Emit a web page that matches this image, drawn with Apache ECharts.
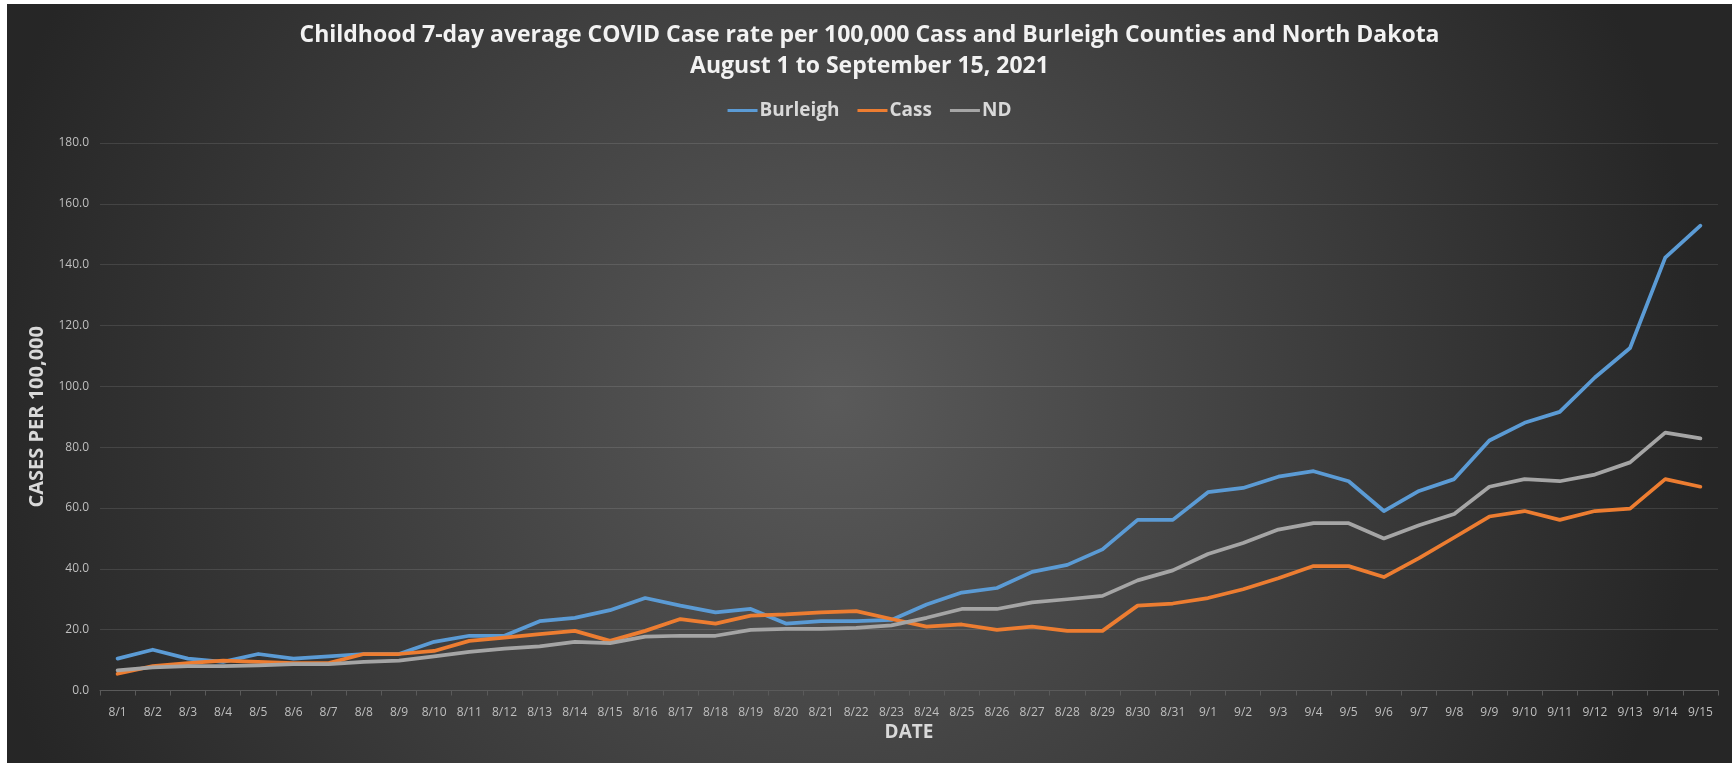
<!DOCTYPE html>
<html>
<head>
<meta charset="utf-8">
<script src="https://cdn.jsdelivr.net/npm/echarts@6/dist/echarts.min.js"></script>
<style>
html,body{margin:0;padding:0;background:#ffffff;width:1732px;height:763px;overflow:hidden;}
#chart{position:absolute;left:7px;top:4px;width:1725px;height:759px;}
</style>
</head>
<body>
<div id="chart"></div>
<script>
const categories = ['8/1','8/2','8/3','8/4','8/5','8/6','8/7','8/8','8/9','8/10','8/11','8/12','8/13','8/14','8/15','8/16','8/17','8/18','8/19','8/20','8/21','8/22','8/23','8/24','8/25','8/26','8/27','8/28','8/29','8/30','8/31','9/1','9/2','9/3','9/4','9/5','9/6','9/7','9/8','9/9','9/10','9/11','9/12','9/13','9/14','9/15'];
const burleigh = [10.5,13.4,10.5,9.4,12.0,10.5,11.2,12.0,12.0,16.0,18.0,18.0,22.8,23.9,26.4,30.4,27.9,25.7,26.8,22.0,22.8,22.8,23.2,28.3,32.2,33.7,39.0,41.3,46.4,56.1,56.1,65.2,66.6,70.3,72.1,68.8,59.0,65.6,69.5,82.2,88.0,91.6,102.9,112.6,142.3,152.8];
const cass = [5.5,8.0,9.0,9.8,9.4,9.0,9.0,12.0,12.0,13.0,16.3,17.4,18.5,19.6,16.3,19.6,23.5,22.0,24.6,25.0,25.7,26.1,23.5,21.0,21.7,19.9,21.0,19.6,19.6,27.9,28.6,30.4,33.3,36.9,40.9,40.9,37.3,43.5,50.3,57.2,59.0,56.1,59.0,59.8,69.5,67.0];
const nd = [6.6,7.6,8.0,8.0,8.3,8.7,8.7,9.4,9.8,11.2,12.7,13.8,14.5,16.0,15.6,17.7,18.0,18.0,19.9,20.3,20.3,20.6,21.4,23.9,26.8,26.8,29.0,30.0,31.1,36.2,39.5,44.9,48.5,52.9,55.0,55.0,50.0,54.3,58.0,67.0,69.5,68.8,71.0,75.0,84.8,82.9];
const yTicks = {min:0, max:180, interval:20};

const chart = echarts.init(document.getElementById('chart'), null, {renderer:'canvas'});
const mkLine = (name, data, color) => ({
  name, type:'line', data, showSymbol:false, symbol:'none', smooth:false,
  lineStyle:{color, width:3.75, cap:'round', join:'round'}, itemStyle:{color},
  emphasis:{disabled:true}, animation:false
});
chart.setOption({
  animation:false,
  backgroundColor:{type:'radial', x:0.48, y:0.52, r:1.15, colorStops:[{offset:0,color:'#5a5a5a'},{offset:1,color:'#262626'}]},
  title:{
    text:'Childhood 7-day average COVID Case rate per 100,000 Cass and Burleigh Counties and North Dakota\nAugust 1 to September 15, 2021',
    left:'center', top:11,
    textStyle:{color:'#f2f2f2', fontFamily:'Open Sans', fontWeight:'bold', fontSize:23, lineHeight:31}
  },
  legend:{
    top:92, left:'center', icon:'rect', itemWidth:30, itemHeight:3, itemGap:18,
    textStyle:{color:'#d9d9d9', fontFamily:'Open Sans', fontWeight:'bold', fontSize:19, padding:[0,0,0,-3]},
    data:['Burleigh','Cass','ND']
  },
  grid:{left:93, right:14, top:139, bottom:72.5, containLabel:false},
  xAxis:{
    type:'category', data:categories, boundaryGap:true,
    name:'DATE', nameLocation:'middle', nameGap:33,
    nameTextStyle:{color:'#d9d9d9', fontFamily:'Open Sans', fontWeight:'bold', fontSize:19},
    axisLine:{show:true, lineStyle:{color:'#5a5a5a', width:1}},
    axisTick:{show:true, alignWithLabel:false, length:5, lineStyle:{color:'#5a5a5a'}},
    axisLabel:{interval:0, color:'#bfbfbf', fontFamily:'Open Sans', fontSize:12, margin:16}
  },
  yAxis:{
    type:'value', min:yTicks.min, max:yTicks.max, interval:yTicks.interval,
    name:'CASES PER 100,000', nameLocation:'middle', nameGap:41, nameRotate:90,
    nameTextStyle:{color:'#d9d9d9', fontFamily:'Open Sans', fontWeight:'bold', fontSize:20},
    axisLine:{show:false}, axisTick:{show:false},
    axisLabel:{color:'#bfbfbf', fontFamily:'Open Sans', fontSize:12, margin:11, formatter:v=>v.toFixed(1)},
    splitLine:{show:true, lineStyle:{color:'rgba(255,255,255,0.11)', width:1}}
  },
  series:[
    mkLine('Burleigh', burleigh, '#5b9bd5'),
    mkLine('Cass', cass, '#ed7d31'),
    mkLine('ND', nd, '#a5a5a5')
  ]
});
</script>
</body>
</html>
